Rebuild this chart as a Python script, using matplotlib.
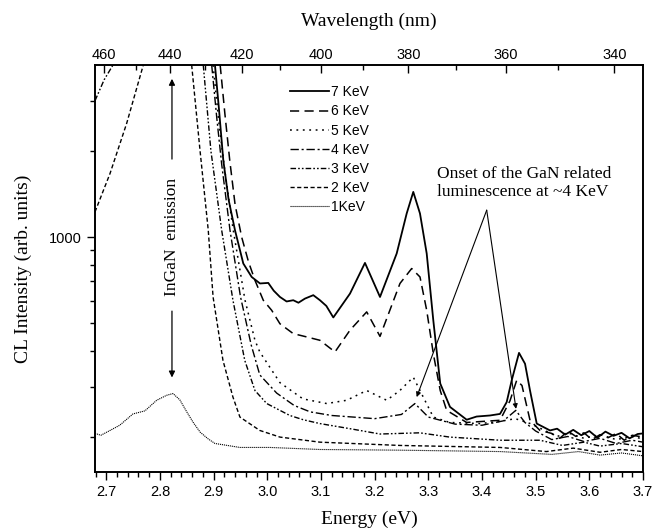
import numpy as np
import matplotlib
matplotlib.use("Agg")
import matplotlib.pyplot as plt
from matplotlib.ticker import FixedLocator, NullFormatter, FixedFormatter, MultipleLocator, FormatStrFormatter

nan = np.nan
HC = 1239.84  # eV*nm

# energies (eV) and CL intensities (arb. units)
e7 = [2.9025, 2.910, 2.918, 2.928, 2.9398, 2.9553, 2.9709, 2.9864, 3.0018, 3.012, 3.0236, 3.036, 3.0484,
      3.058, 3.0702, 3.0857, 3.0981, 3.110, 3.1230, 3.1541, 3.1820, 3.2100, 3.2411, 3.2597, 3.2720,
      3.2845, 3.2970, 3.3093, 3.3222, 3.3404, 3.3715, 3.39, 3.4149, 3.4336, 3.4460, 3.4554, 3.4690,
      3.4802, 3.4895, 3.5020, 3.5267, 3.54, 3.555, 3.57, 3.585, 3.60, 3.615, 3.63, 3.645, 3.66, 3.675,
      3.69, 3.70]
i7 = [4000, 2800, 1860, 1350, 1058, 809, 726, 689, 692, 650, 618, 596, 602,
      590, 610, 627, 602, 575, 524, 635, 813, 618, 877, 1210, 1440,
      1210, 877, 512, 308, 255, 230, 236, 238, 241, 265, 316, 394,
      361, 291, 223, 211, 214, 204, 212, 203, 210, 199, 209, 202, 207, 198,
      205, 206]

e6 = [2.9122, 2.921, 2.930, 2.940, 2.9523, 2.965, 2.977, 2.9925, 3.0082, 3.0236, 3.0484, 3.0734,
      3.0981, 3.1261, 3.1541, 3.1852, 3.2100, 3.2472, 3.2690, 3.2845, 3.2970, 3.3093, 3.3222, 3.3342,
      3.3715, 3.4336, 3.4522, 3.4647, 3.4745, 3.4895, 3.508, 3.53, 3.545, 3.56, 3.575, 3.59, 3.605,
      3.62, 3.635, 3.65, 3.665, 3.68, 3.70]
i6 = [4000, 2700, 1860, 1300, 1000, 820, 707, 602, 555, 498, 460, 448,
      436, 397, 473, 548, 450, 689, 777, 726, 555, 392, 291, 248,
      225, 229, 268, 316, 303, 229, 211, 206, 198, 210, 201, 207, 196,
      204, 199, 206, 195, 203, 200]

e5 = [2.899, 2.910, 2.921, 2.9366, 2.9585, 2.977, 2.986, 3.0236, 3.0665, 3.1107, 3.1479, 3.1852,
      3.2225, 3.247, 3.2720, 3.2906, 3.3093, 3.340, 3.396, 3.434, 3.462, 3.49, 3.517, 3.54,
      3.56, 3.59, 3.62, 3.65, 3.68, 3.70]
i5 = [4000, 2500, 1700, 1058, 602, 436, 397, 310, 272, 262, 269, 291,
      269, 291, 324, 276, 235, 225, 223, 227, 232, 223, 211, 201,
      207, 198, 204, 196, 201, 197]

e4 = [2.8964, 2.906, 2.915, 2.9305, 2.95, 2.97, 2.986, 3.0175, 3.05, 3.08, 3.12, 3.16,
      3.20, 3.25, 3.275, 3.30, 3.35, 3.40, 3.44, 3.463, 3.48, 3.50, 3.53, 3.56, 3.59,
      3.62, 3.65, 3.68, 3.70]
i4 = [4000, 2600, 1800, 1058, 620, 420, 330, 285, 258, 245, 238, 235,
      232, 240, 262, 235, 222, 220, 228, 248, 225, 210, 196, 201, 193,
      198, 190, 195, 192]

e3 = [2.679, 2.696, 2.7125, nan, 2.8807, 2.895, 2.915, 2.936, 2.958, 2.977, 2.999, 3.042,
      3.067, 3.098, 3.154, 3.210, 3.284, 3.340, 3.434, 3.508, 3.55, 3.59, 3.62, 3.66, 3.70]
i3 = [3000, 3550, 4000, nan, 4000, 2000, 1058, 602, 371, 291, 262, 238,
      230, 223, 214, 205, 207, 200, 195, 195, 187, 192, 186, 190, 185]

e2 = [2.679, 2.707, 2.738, 2.769, nan, 2.8591, 2.8746, 2.890, 2.899, 2.9174, 2.936, 2.949,
      2.986, 3.0236, 3.098, 3.247, 3.434, 3.52, 3.57, 3.62, 3.66, 3.70]
i2 = [1226, 1670, 2500, 4000, nan, 4000, 2016, 1058, 618, 371, 276, 235,
      211, 200, 192, 187, 184, 178, 183, 177, 181, 178]

e1 = [2.679, 2.69, 2.707, 2.725, 2.7497, 2.772, 2.7939, 2.8125, 2.8243, 2.837, 2.85, 2.862, 2.875,
      2.89, 2.9025, 2.949, 3.005, 3.098, 3.247, 3.434, 3.53, 3.58, 3.62, 3.66, 3.70]
i1 = [206, 203, 211, 220, 241, 247, 269, 280, 284, 270, 245, 225, 208,
      197, 190, 184, 184, 181, 180, 178, 174, 178, 173, 176, 172]

labels = ["7 KeV", "6 KeV", "5 KeV", "4 KeV", "3 KeV", "2 KeV", "1KeV"]
wl_major = [460, 440, 420, 400, 380, 360, 340]
wl_minor = [450, 430, 410, 390, 370, 350]

SANS = ["Liberation Sans", "DejaVu Sans"]
SERIF = ["Liberation Serif", "DejaVu Serif"]

fig = plt.figure(figsize=(6.65, 5.31), dpi=100)
ax = fig.add_axes([95 / 665, 1 - 472 / 531, 548 / 665, 407 / 531])

series = [(e7, i7), (e6, i6), (e5, i5), (e4, i4), (e3, i3), (e2, i2), (e1, i1)]
styles = ['-', (0, (6, 3.5)), (0, (1.2, 3)), (0, (6, 2, 1.5, 2)),
          (0, (4, 1.5, 1.2, 1.5, 1.2, 1.5)), (0, (3, 1.8)), (0, (1, 0.8))]
widths = [1.3, 1.1, 1.1, 1.0, 1.0, 1.0, 0.8]

for (e, i), lab, ls, lw in zip(series, labels, styles, widths):
    ax.plot(e, i, color='black', linestyle=ls, linewidth=lw, label=lab)

ax.set_yscale('log')
ax.set_xlim(2.679, 3.70)
ax.set_ylim(151, 4000)

ax.xaxis.set_major_locator(MultipleLocator(0.1))
ax.xaxis.set_minor_locator(MultipleLocator(0.02))
ax.xaxis.set_major_formatter(FormatStrFormatter('%.1f'))
ax.yaxis.set_major_locator(FixedLocator([1000]))
ax.yaxis.set_major_formatter(FixedFormatter(['1000']))
ax.yaxis.set_minor_locator(FixedLocator([200, 300, 400, 500, 600, 700, 800, 900, 2000, 3000]))
ax.yaxis.set_minor_formatter(NullFormatter())
ax.tick_params(which='both', direction='out', top=False, right=False, width=1.0)
ax.tick_params(which='major', length=6)
ax.tick_params(which='minor', length=3.5)
for t in ax.get_xticklabels() + ax.get_yticklabels():
    t.set_family(SANS)
    t.set_fontsize(10.5)
for s in ax.spines.values():
    s.set_linewidth(1.2)

ax.set_xlabel("Energy (eV)", family=SERIF, fontsize=14, labelpad=8.5)
ax.set_ylabel("CL Intensity (arb. units)", family=SERIF, fontsize=14, labelpad=12)

# wavelength axis on top
ax2 = ax.twiny()
ax2.set_xlim(ax.get_xlim())
ax2.set_xticks([HC / w for w in wl_major])
ax2.set_xticklabels([str(w) for w in wl_major], family=SANS, fontsize=10.5)
ax2.set_xticks([HC / w for w in wl_minor], minor=True)
ax2.tick_params(which='both', direction='in', width=1.0, pad=2)
ax2.tick_params(which='major', length=6)
ax2.tick_params(which='minor', length=3.5)
ax2.set_xlabel("Wavelength (nm)", family=SERIF, fontsize=14, labelpad=16)
for s in ax2.spines.values():
    s.set_linewidth(1.2)

leg = ax.legend(loc='upper left', bbox_to_anchor=(0.356, 0.950), frameon=False,
                prop={'family': SANS, 'size': 10}, handlelength=2.8, handletextpad=0.15,
                labelspacing=0.37, borderpad=0, borderaxespad=0)

# InGaN emission arrows
ax.annotate('', xy=(2.8224, 3660), xytext=(2.8224, 1834),
            arrowprops=dict(arrowstyle='-|>', color='black', lw=0.9, mutation_scale=9))
ax.annotate('', xy=(2.8224, 316), xytext=(2.8224, 564),
            arrowprops=dict(arrowstyle='-|>', color='black', lw=0.9, mutation_scale=9))
ax.text(2.8224, 1000, "InGaN  emission", rotation=90, ha='center', va='center',
        family=SERIF, fontsize=12.5)

# GaN onset
ax.text(3.316, 1545, "Onset of the GaN related\nluminescence at ~4 KeV", ha='left', va='center',
        family=SERIF, fontsize=12.5, linespacing=1.2)
for tgt in [(3.2783, 276), (3.4634, 251)]:
    ax.annotate('', xy=tgt, xytext=(3.4088, 1243),
                arrowprops=dict(arrowstyle='-|>', color='black', lw=0.8, mutation_scale=7,
                                shrinkA=0, shrinkB=0))

fig.savefig("out.png", dpi=100)
